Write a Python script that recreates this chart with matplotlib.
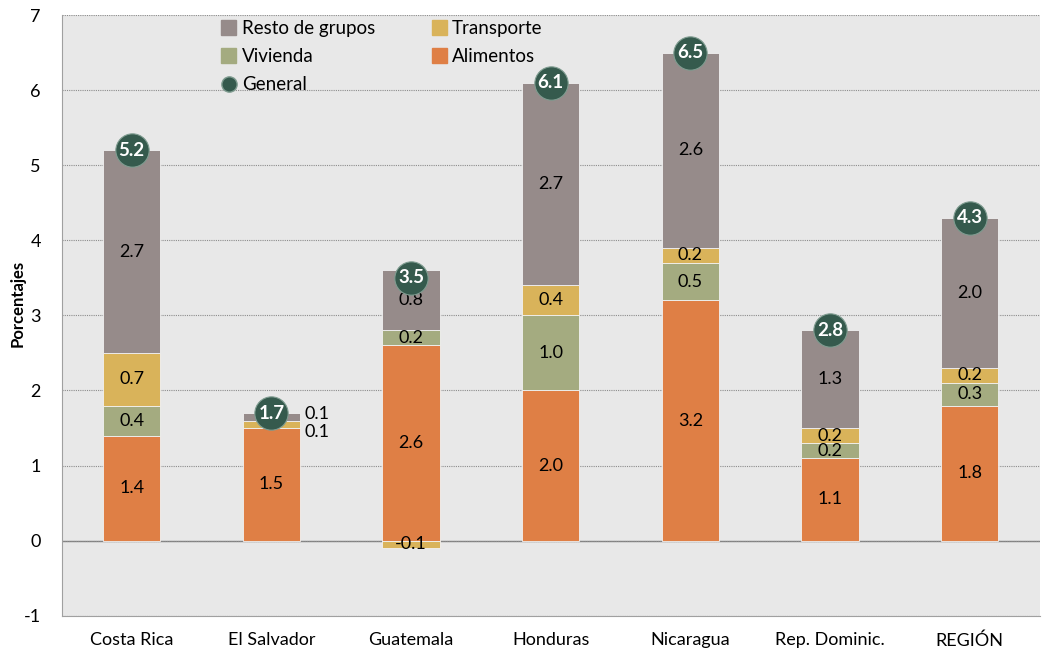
import numpy as np
import matplotlib.pyplot as plt
from matplotlib.lines import Line2D
from matplotlib.patches import Patch

plt.rcParams['font.family'] = ['Lato', 'DejaVu Sans']
plt.rcParams['axes.unicode_minus'] = False

paises = ['Costa Rica', 'El Salvador', 'Guatemala', 'Honduras', 'Nicaragua', 'Rep. Dominic.', 'REGIÓN']
alimentos = [1.4, 1.5, 2.6, 2.0, 3.2, 1.1, 1.8]
vivienda = [0.4, 0.0, 0.2, 1.0, 0.5, 0.2, 0.3]
transporte = [0.7, 0.1, -0.1, 0.4, 0.2, 0.2, 0.2]
resto = [2.7, 0.1, 0.8, 2.7, 2.6, 1.3, 2.0]
general = [5.2, 1.7, 3.5, 6.1, 6.5, 2.8, 4.3]

c_alim = '#df7f45'
c_viv = '#a4ab80'
c_trans = '#d9b35a'
c_resto = '#968b8a'
c_gen = '#355a4d'

fig = plt.figure(figsize=(10.47, 6.53), dpi=100)
ax = fig.add_axes([0.059, 0.057, 0.934, 0.92])
ax.set_facecolor('#e8e8e8')

x = np.arange(len(paises))
w = 0.41
pos = np.zeros(len(paises))
neg = np.zeros(len(paises))

series = [('alim', alimentos, c_alim), ('viv', vivienda, c_viv),
          ('trans', transporte, c_trans), ('resto', resto, c_resto)]
for nombre, vals, col in series:
    for i, v in enumerate(vals):
        if v == 0:
            continue
        base = pos[i] if v > 0 else neg[i]
        ax.bar(x[i], v, w, bottom=base, color=col, edgecolor='#f2f2f2', linewidth=0.6, zorder=2)
        if paises[i] == 'El Salvador' and nombre in ('trans', 'resto'):
            # etiquetas pequeñas a la derecha de la barra
            dy = 0.04 if nombre == 'resto' else -0.1
            ax.text(x[i] + w / 2 + 0.03, base + v / 2 + dy, f'{v:.1f}', ha='left', va='center',
                    fontsize=13, zorder=4)
        else:
            ax.text(x[i], base + v / 2, f'{v:.1f}', ha='center', va='center', fontsize=13, zorder=4)
        if v > 0:
            pos[i] += v
        else:
            neg[i] += v

# General
ax.plot(x, general, 'o', ms=24, color=c_gen, mec='#7f9c90', mew=0.8, linestyle='none', zorder=5)
for i, g in enumerate(general):
    ax.text(x[i], g, f'{g:.1f}', ha='center', va='center', color='white', fontsize=13.5,
            fontweight='bold', zorder=6)

ax.set_xlim(-0.5, 6.5)
ax.set_ylim(-1, 7)
ax.set_yticks(range(-1, 8))
ax.set_xticks(x)
ax.set_xticklabels(paises)
ax.tick_params(axis='both', length=0, labelsize=13, pad=12)
ax.tick_params(axis='y', pad=15)
ax.yaxis.grid(True, color='#8c8c8c', linestyle=(0, (1, 1)), linewidth=0.8, zorder=0)
ax.axhline(0, color='#808080', linewidth=1, zorder=1)
for s in ['top', 'right']:
    ax.spines[s].set_visible(False)
for s in ['left', 'bottom']:
    ax.spines[s].set_color('#a0a0a0')
ax.set_ylabel('Porcentajes', fontsize=12, fontweight='bold')
ax.yaxis.set_label_coords(-0.037, 0.52)

handles = [Patch(color=c_resto, label='Resto de grupos'),
           Patch(color=c_viv, label='Vivienda'),
           Line2D([], [], marker='o', ms=11, color=c_gen, mec='#7f9c90', linestyle='none', label='General'),
           Patch(color=c_trans, label='Transporte'),
           Patch(color=c_alim, label='Alimentos')]
ax.legend(handles=handles, ncol=2, loc='upper left', bbox_to_anchor=(0.146, 1.02), frameon=False,
          fontsize=13.5, handlelength=0.8, handleheight=0.8, handletextpad=0.3, columnspacing=3.0,
          labelspacing=0.6)

fig.savefig('out.png', dpi=100)
